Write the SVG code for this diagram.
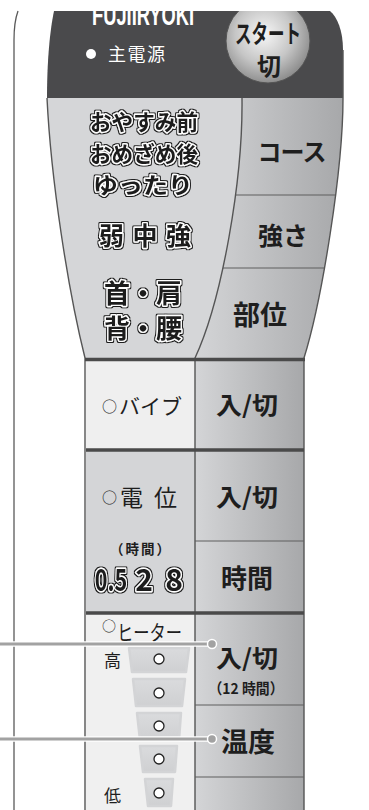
<svg xmlns="http://www.w3.org/2000/svg" width="369" height="810" viewBox="0 0 369 810">
<defs>
<linearGradient id="btnGrad" x1="0" y1="0" x2="1" y2="0"><stop offset="0" stop-color="#d4d5d7"/><stop offset="1" stop-color="#a7a8aa"/></linearGradient>
<radialGradient id="startGrad" cx="0.45" cy="0.42" r="0.62"><stop offset="0" stop-color="#f7f7f7"/><stop offset="0.55" stop-color="#c6c6c6"/><stop offset="1" stop-color="#858585"/></radialGradient>
<linearGradient id="trapGrad" x1="0" y1="0" x2="0" y2="1"><stop offset="0" stop-color="#dadbdd"/><stop offset="1" stop-color="#cfd0d2"/></linearGradient>
<clipPath id="topClip"><rect x="0" y="11" width="369" height="799"/></clipPath>
<clipPath id="rightUpClip"><path d="M242,98 H343 C343,170 322,300 304,358 H195 C222,300 243,180 242,98 Z"/></clipPath>
<filter id="outline" x="-10%" y="-20%" width="120%" height="140%">
<feMorphology in="SourceAlpha" operator="dilate" radius="1.1" result="d"/>
<feFlood flood-color="#1e1e1e"/>
<feComposite in2="d" operator="in" result="o"/>
<feMerge><feMergeNode in="o"/><feMergeNode in="SourceGraphic"/></feMerge>
</filter>
</defs>
<style>
.cjk{font-family:'Noto Sans CJK JP','Noto Sans',sans-serif}
.btn{font-family:'Noto Sans CJK JP','Noto Sans',sans-serif;font-weight:bold;fill:#1e1e1e;text-anchor:middle}
.ol{font-family:'Noto Sans CJK JP','Noto Sans',sans-serif;font-weight:bold;fill:#1e1e1e;stroke:#fff;stroke-width:2.8;stroke-linejoin:round;paint-order:stroke;text-anchor:middle;filter:url(#outline)}
.lbl{font-family:'Noto Sans CJK JP','Noto Sans',sans-serif;fill:#1e1e1e}
.edge{fill:none;stroke:#555;stroke-width:1.4}
.thick{stroke:#4a4a4a;stroke-width:3.5}
.thin{stroke:#5f5f5f;stroke-width:1.2}
.led{fill:#fff;stroke:#222;stroke-width:1.3}
.trap{fill:url(#trapGrad);stroke:#d3d4d6;stroke-width:2.5;stroke-linejoin:round}
.conn{fill:none;stroke:#fff;stroke-width:5.5}
.connc{fill:none;stroke:#a2a2a2;stroke-width:3}
</style>
<rect width="369" height="810" fill="#fff"/>
<path d="M18,11 Q14,22 14,40 V810" fill="none" stroke="#5a5a5a" stroke-width="1.3"/>

<g id="panel-top">
<path d="M54,11 H330 C337,17 343,30 343,50 V98 H47 C47,60 50,30 54,11 Z" fill="#4a4a4c"/>
<g clip-path="url(#topClip)">
<text transform="translate(92,25) scale(1,1.6)" x="0" y="0" font-family="'Liberation Sans',Arial,sans-serif" font-weight="bold" font-size="18.3" fill="#fff">FUJIIRYOKI</text>
</g>
<circle cx="91" cy="54" r="5" fill="#fff"/>
<text x="108" y="61" class="cjk" font-size="18" fill="#fff" textLength="57">主電源</text>
</g>

<g id="btn-start" clip-path="url(#topClip)">
<circle cx="268" cy="41" r="42" fill="url(#startGrad)" stroke="#555" stroke-width="1"/>
<text x="268" y="43" class="btn" font-size="25" textLength="66" lengthAdjust="spacingAndGlyphs">スタート</text>
<text x="269" y="75" class="btn" font-size="24">切</text>
</g>

<g id="panel-mid">
<path d="M47,98 H242 C243,180 222,300 195,358 H85 C68,290 51,180 47,98 Z" fill="#d5d6d8"/>
<path d="M242,98 H343 C343,170 322,300 304,358 H195 C222,300 243,180 242,98 Z" fill="url(#btnGrad)"/>
<g clip-path="url(#rightUpClip)">
<line x1="200" y1="195" x2="350" y2="195" class="thin"/>
<line x1="200" y1="268" x2="350" y2="268" class="thin"/>
</g>
</g>

<g id="cells">
<rect x="86" y="361" width="109" height="89" fill="#efefef"/>
<rect x="195" y="361" width="109" height="89" fill="url(#btnGrad)"/>
<rect x="86" y="451" width="109" height="162" fill="#d4d5d7"/>
<rect x="195" y="451" width="109" height="162" fill="url(#btnGrad)"/>
<rect x="86" y="614" width="109" height="196" fill="#f0f0f0"/>
<rect x="195" y="614" width="109" height="196" fill="url(#btnGrad)"/>
</g>

<g id="frame">
<path d="M47,98 C51,180 68,290 85,358 V810" class="edge"/>
<path d="M343,50 V98 C343,170 322,300 304,358 V810" class="edge"/>
<path d="M242,98 C243,180 222,300 195,358 V810" class="edge" stroke-width="1.2"/>
<line x1="85" y1="359.5" x2="305" y2="359.5" class="thick"/>
<line x1="86" y1="450" x2="304" y2="450" class="thick" stroke-width="3"/>
<line x1="86" y1="613" x2="304" y2="613" class="thick" stroke-width="3"/>
<line x1="195" y1="541" x2="304" y2="541" class="thin"/>
<line x1="195" y1="705" x2="304" y2="705" class="thin"/>
<line x1="195" y1="777" x2="304" y2="777" class="thin"/>
</g>

<g id="label-course" class="ol" font-size="22">
<text x="144" y="130" textLength="108" lengthAdjust="spacingAndGlyphs">おやすみ前</text>
<text x="144" y="162" textLength="108" lengthAdjust="spacingAndGlyphs">おめざめ後</text>
<text x="143" y="193" textLength="100" lengthAdjust="spacingAndGlyphs">ゆったり</text>
</g>
<g id="label-strength">
<text x="145" y="245" class="ol" font-size="25" textLength="92" lengthAdjust="spacing">弱 中 強</text>
</g>
<g id="label-part" class="ol" font-size="26">
<text x="143" y="303" textLength="78" lengthAdjust="spacing">首・肩</text>
<text x="143" y="338" textLength="78" lengthAdjust="spacing">背・腰</text>
</g>

<g id="btn-course"><text x="292" y="161" class="btn" font-size="24" textLength="69">コース</text></g>
<g id="btn-strength"><text x="283" y="245" class="btn" font-size="25">強さ</text></g>
<g id="btn-part"><text x="260" y="325" class="btn" font-size="27">部位</text></g>

<g id="label-vibe"><text x="102" y="414" class="lbl" font-size="21"><tspan font-size="15" dy="-2">○</tspan><tspan dy="2" dx="2">バイブ</tspan></text></g>
<g id="btn-vibe"><text x="247" y="414" class="btn" font-size="24" textLength="62" lengthAdjust="spacingAndGlyphs">入/切</text></g>

<g id="label-potential"><text x="102" y="506" class="lbl" font-size="23"><tspan font-size="15" dy="-3">○</tspan><tspan dy="3" dx="3">電</tspan><tspan dx="11">位</tspan></text></g>
<g id="btn-potential"><text x="247" y="506" class="btn" font-size="24" textLength="62" lengthAdjust="spacingAndGlyphs">入/切</text></g>

<g id="label-time">
<text x="140" y="554" class="btn" font-size="13.5" textLength="60">（時間）</text>
<text transform="translate(111,591) scale(0.72,1)" x="0" y="0" class="ol" font-size="30">0.5</text>
<text x="144" y="591" class="ol" font-size="30">2</text>
<text x="174" y="591" class="ol" font-size="30">8</text>
</g>
<g id="btn-time"><text x="247" y="588" class="btn" font-size="26">時間</text></g>

<g id="label-heater">
<text x="102" y="640" class="lbl" font-size="21"><tspan font-size="14" dy="-9">○</tspan><tspan dy="9" dx="1" textLength="65" lengthAdjust="spacingAndGlyphs">ヒーター</tspan></text>
<text x="104" y="667" class="lbl" font-size="17">高</text>
<text x="104" y="802" class="lbl" font-size="17">低</text>
</g>

<g id="heater-levels">
<path d="M129,648 H189 L186,672 H132 Z" class="trap"/>
<path d="M133,679 H185 L182,706 H136 Z" class="trap"/>
<path d="M137,713 H181 L179,740 H140 Z" class="trap"/>
<path d="M140,746 H177 L175,772 H143 Z" class="trap"/>
<path d="M145,779 H173 L171,806 H148 Z" class="trap"/>
<circle cx="159" cy="659" r="5" class="led"/>
<circle cx="159" cy="693" r="5" class="led"/>
<circle cx="159" cy="726" r="5" class="led"/>
<circle cx="159" cy="759" r="5" class="led"/>
<circle cx="159" cy="793" r="5" class="led"/>
</g>

<g id="btn-heater">
<text x="247" y="667" class="btn" font-size="24" textLength="62" lengthAdjust="spacingAndGlyphs">入/切</text>
<text x="246" y="694" class="btn" font-size="15" textLength="75" lengthAdjust="spacingAndGlyphs">（12 時間）</text>
</g>
<g id="btn-temp"><text x="248" y="752" class="btn" font-size="27">温度</text></g>

<g id="connectors">
<line x1="0" y1="644" x2="212" y2="644" class="conn"/>
<line x1="0" y1="739" x2="212" y2="739" class="conn"/>
<line x1="0" y1="644" x2="212" y2="644" class="connc"/>
<line x1="0" y1="739" x2="212" y2="739" class="connc"/>
<circle cx="212" cy="644" r="4.5" fill="#a2a2a2" stroke="#fff" stroke-width="1.5"/>
<circle cx="212" cy="739" r="4.5" fill="#a2a2a2" stroke="#fff" stroke-width="1.5"/>
</g>
</svg>
